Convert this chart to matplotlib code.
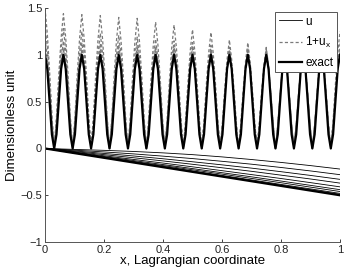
import numpy as np
import matplotlib
matplotlib.use("Agg")
import matplotlib.pyplot as plt
from matplotlib.lines import Line2D

plt.rcParams['font.family'] = ['Liberation Sans', 'DejaVu Sans']
plt.rcParams['mathtext.fontset'] = 'custom'
plt.rcParams['mathtext.rm'] = 'Liberation Sans'
plt.rcParams['mathtext.it'] = 'Liberation Sans'

# ---- data ----
x_coarse = [0.0, 0.1, 0.2, 0.3, 0.4, 0.5, 0.6, 0.7, 0.8, 0.9, 1.0]
u1 = [0, -0.010, -0.020, -0.032, -0.047, -0.066, -0.090, -0.118, -0.149, -0.183, -0.220]
u2 = [0, -0.018, -0.037, -0.058, -0.082, -0.108, -0.137, -0.168, -0.203, -0.240, -0.280]
u3 = [0, -0.026, -0.053, -0.080, -0.110, -0.142, -0.175, -0.210, -0.248, -0.288, -0.330]
u4 = [0, -0.033, -0.066, -0.099, -0.133, -0.169, -0.206, -0.244, -0.285, -0.326, -0.370]
u5 = [0, -0.039, -0.078, -0.117, -0.156, -0.196, -0.237, -0.279, -0.321, -0.365, -0.410]
u6 = [0, -0.043, -0.086, -0.129, -0.172, -0.215, -0.259, -0.303, -0.348, -0.394, -0.440]
u7 = [0, -0.046, -0.092, -0.138, -0.183, -0.228, -0.274, -0.320, -0.366, -0.413, -0.460]
u8 = [0, -0.048, -0.096, -0.144, -0.192, -0.240, -0.288, -0.336, -0.384, -0.432, -0.480]
u9 = [0, -0.049, -0.098, -0.147, -0.196, -0.245, -0.294, -0.343, -0.392, -0.441, -0.490]
u_exact = [0, -0.05, -0.10, -0.15, -0.20, -0.25, -0.30, -0.35, -0.40, -0.45, -0.50]

# oscillating curves: 16 periods on [0, 1]; peak heights at x = k/16
n_periods = 16
dash_shape = [1.0, 0.82, 0.55, 0.24, 0.0, 0.24, 0.55, 0.82]   # one period, normalised
exact_shape = [1.0, 0.85, 0.50, 0.15, 0.0, 0.15, 0.50, 0.85]
d1_peaks = [1.50, 1.44, 1.43, 1.42, 1.40, 1.39, 1.35, 1.32, 1.27, 1.24, 1.16, 1.13, 1.08, 1.06, 1.06, 1.08, 1.25]
d2_peaks = [1.32, 1.28, 1.25, 1.23, 1.21, 1.19, 1.17, 1.15, 1.13, 1.10, 1.08, 1.07, 1.06, 1.05, 1.05, 1.05, 1.12]
d3_peaks = [1.18, 1.15, 1.13, 1.12, 1.11, 1.10, 1.09, 1.08, 1.07, 1.06, 1.05, 1.04, 1.04, 1.03, 1.03, 1.03, 1.06]
d4_peaks = [1.08, 1.07, 1.06, 1.06, 1.05, 1.05, 1.04, 1.04, 1.03, 1.03, 1.03, 1.02, 1.02, 1.02, 1.02, 1.02, 1.03]
exact_peaks = [1.0, 1.0, 1.0, 1.0, 1.0, 1.0, 1.0, 1.0, 1.0, 1.0, 1.0, 1.0, 1.0, 1.0, 1.0, 1.0, 1.0]

xticks = [0, 0.2, 0.4, 0.6, 0.8, 1]
xticklabels = ['0', '0.2', '0.4', '0.6', '0.8', '1']
yticks = [-1, -0.5, 0, 0.5, 1, 1.5]
yticklabels = ['\u22121', '\u22120.5', '0', '0.5', '1', '1.5']


def build(peaks, shape):
    m = len(shape)
    xs, ys = [], []
    for k in range(n_periods):
        for p in range(m):
            xs.append((k + p / m) / n_periods)
            h = peaks[k] if p < m // 2 else peaks[k + 1]
            ys.append(shape[p] * h)
    xs.append(1.0)
    ys.append(shape[0] * peaks[-1])
    return xs, ys


fig = plt.figure(figsize=(3.46, 2.72), dpi=100)
ax = fig.add_axes([0.130, 0.110, 0.8527, 0.8604])

gray = '#7a7a7a'
dash = (0, (2.5, 1.8))

for pk in [d4_peaks, d3_peaks, d2_peaks, d1_peaks]:
    xs, ys = build(pk, dash_shape)
    ax.plot(xs, ys, color=gray, lw=0.9, ls=dash)

xs, ys = build(exact_peaks, exact_shape)
ax.plot(xs, ys, color='black', lw=1.6)

for uu in [u1, u2, u3, u4, u5, u6, u7, u8, u9]:
    ax.plot(x_coarse, uu, color='black', lw=0.6)

ax.plot(x_coarse, u_exact, color='black', lw=1.6)

ax.set_xlim(0, 1)
ax.set_ylim(-1, 1.5)
ax.set_xticks(xticks)
ax.set_xticklabels(xticklabels)
ax.set_yticks(yticks)
ax.set_yticklabels(yticklabels)
ax.tick_params(direction='in', length=2.5, width=0.6, labelsize=8, colors='#222222', pad=2)
for s in ['top', 'right']:
    ax.spines[s].set_visible(False)
for s in ['left', 'bottom']:
    ax.spines[s].set_color('#555555')
    ax.spines[s].set_linewidth(0.7)

ax.set_xlabel('x, Lagrangian coordinate', fontsize=9.5, labelpad=0)
ax.set_ylabel('Dimensionless unit', fontsize=9.5, labelpad=2)

handles = [Line2D([], [], color='black', lw=0.6),
           Line2D([], [], color=gray, lw=0.9, ls=dash),
           Line2D([], [], color='black', lw=1.6)]
leg = ax.legend(handles, ['u', '1+u$_{\\mathrm{x}}$', 'exact'], loc='upper right',
                bbox_to_anchor=(0.989, 0.983), fontsize=8.5, handlelength=2.0,
                handletextpad=0.25, labelspacing=0.6, borderpad=0.3,
                fancybox=False, framealpha=1, edgecolor='#555555', borderaxespad=0)
leg.get_frame().set_linewidth(0.7)

fig.savefig('out.png', dpi=100)
